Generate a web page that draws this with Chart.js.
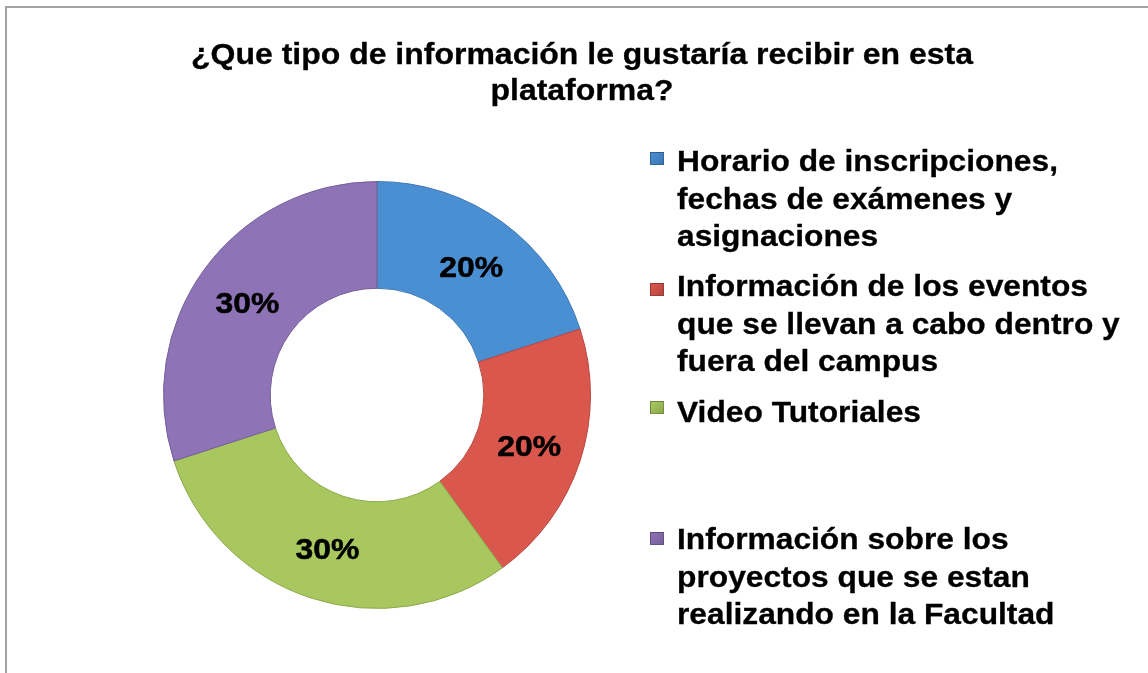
<!DOCTYPE html>
<html>
<head>
<meta charset="utf-8">
<script src="https://cdn.jsdelivr.net/npm/chart.js@4/dist/chart.umd.min.js"></script>
<style>
  html, body { margin: 0; padding: 0; background: #fff; }
  body { width: 1148px; height: 673px; position: relative; overflow: hidden; font-family: "Liberation Sans", Arial, sans-serif; }
  #frame { position: absolute; left: 5px; top: 6px; width: 1200px; height: 700px; border: 2px solid #a3a3a3; box-sizing: border-box; }
  #chartBox { position: absolute; left: 0; top: 0; width: 1148px; height: 673px; }
  #title { position: absolute; left: 182px; width: 800px; top: 36px; text-align: center; font-weight: bold; font-size: 29.5px; line-height: 36px; color: #000; -webkit-text-stroke: 0.3px #000; transform: scaleX(1.084); transform-origin: 50% 0; }
  .item { position: absolute; left: 677px; font-weight: bold; font-size: 30px; line-height: 37.5px; color: #000; white-space: nowrap; -webkit-text-stroke: 0.3px #000; transform: scaleX(1.058); transform-origin: 0 0; }
  .mark { position: absolute; left: 650px; width: 14px; height: 13px; box-sizing: border-box; border: 1px solid rgba(0,0,0,0.25); }
</style>
</head>
<body>
<div id="frame"></div>
<div id="chartBox"><canvas id="donut"></canvas></div>
<div id="title">¿Que tipo de información le gustaría recibir en esta<br>plataforma?</div>
<div id="legend"></div>
<script>
const categories = [
  ['Horario de inscripciones,', 'fechas de exámenes y', 'asignaciones'],
  ['Información de los eventos', 'que se llevan a cabo dentro y', 'fuera del campus'],
  ['Video Tutoriales'],
  ['Información sobre los', 'proyectos que se estan', 'realizando en la Facultad']
];
const values = [20, 20, 30, 30];
const percentLabels = ['20%', '20%', '30%', '30%'];
const colors = ['#4b8fd3', '#d9574c', '#a8c85f', '#8e73b6'];
const edgeColors = ['#3d77b3', '#b84640', '#8ca94c', '#75609a'];

// legend positions
const legendTops = [142, 267, 393, 520];
const markTops = [152, 283, 401, 532];

const legend = document.getElementById('legend');
categories.forEach(function (lines, i) {
  const d = document.createElement('div');
  d.className = 'item';
  d.style.top = legendTops[i] + 'px';
  d.innerHTML = lines.join('<br>');
  legend.appendChild(d);
  const m = document.createElement('div');
  m.className = 'mark';
  m.style.top = markTops[i] + 'px';
  m.style.background = 'linear-gradient(135deg, ' + colors[i] + ', ' + edgeColors[i] + ')';
  legend.appendChild(m);
});

const sliceLabels = {
  id: 'sliceLabels',
  afterDatasetsDraw(chart) {
    const ctx = chart.ctx;
    const meta = chart.getDatasetMeta(0);
    meta.data.forEach(function (arc, i) {
      const p = arc.tooltipPosition();
      ctx.save();
      ctx.translate(p.x, p.y + 4);
      ctx.scale(1.1, 1);
      ctx.font = 'bold 29px "Liberation Sans", Arial, sans-serif';
      ctx.fillStyle = '#000';
      ctx.strokeStyle = '#000';
      ctx.lineWidth = 0.5;
      ctx.textAlign = 'center';
      ctx.textBaseline = 'middle';
      ctx.fillText(percentLabels[i], 0, 0);
      ctx.strokeText(percentLabels[i], 0, 0);
      ctx.restore();
    });
  }
};

new Chart(document.getElementById('donut').getContext('2d'), {
  type: 'doughnut',
  data: {
    labels: categories.map(function (l) { return l.join(' '); }),
    datasets: [{
      data: values,
      backgroundColor: colors,
      borderColor: edgeColors,
      borderWidth: 1
    }]
  },
  options: {
    responsive: true,
    maintainAspectRatio: false,
    animation: false,
    cutout: '50%',
    layout: { padding: { left: 163, right: 557, top: 181, bottom: 64 } },
    plugins: {
      legend: { display: false },
      title: { display: false },
      tooltip: { enabled: false }
    }
  },
  plugins: [sliceLabels]
});
</script>
</body>
</html>
